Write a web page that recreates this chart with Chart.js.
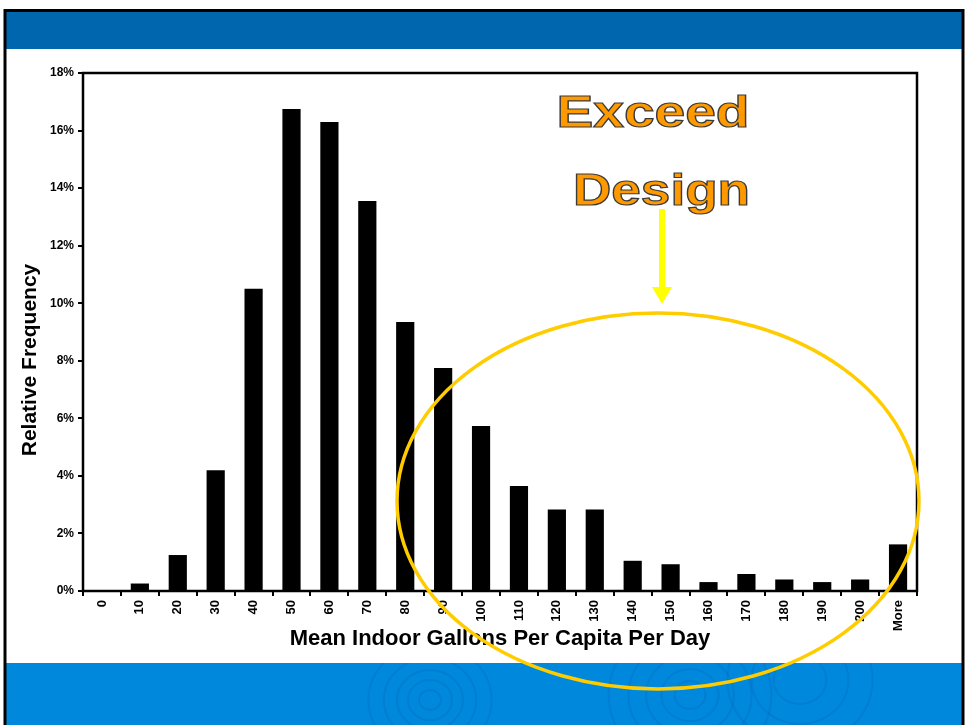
<!DOCTYPE html>
<html>
<head>
<meta charset="utf-8">
<script src="https://cdn.jsdelivr.net/npm/chart.js@4/dist/chart.umd.min.js"></script>
<style>
  html, body { margin: 0; padding: 0; background: #fff; }
  #wrap { width: 968px; height: 725px; position: relative; }
</style>
</head>
<body>
<div id="wrap"><canvas id="myChart"></canvas></div>
<script>
    // bins (gallons per capita per day) and relative frequency in %
    const bins = ["0", "10", "20", "30", "40", "50", "60", "70", "80", "90", "100",
      "110", "120", "130", "140", "150", "160", "170", "180", "190", "200", "More"];
    const freq = [0, 0.26, 1.25, 4.2, 10.5, 16.75, 16.3, 13.55, 9.35, 7.75, 5.73,
      3.65, 2.83, 2.83, 1.05, 0.93, 0.31, 0.59, 0.4, 0.31, 0.4, 1.62];
    const yTicks = [0, 2, 4, 6, 8, 10, 12, 14, 16, 18];

    const yTitle = "Relative Frequency";
    const calloutLines = ["Exceed", "Design"];

    const fontFam = '"Liberation Sans", Arial, Helvetica, sans-serif';

    // slide background: blue bands + black frame
    const slideBg = {
      id: 'slideBg',
      beforeDraw(chart) {
        const ctx = chart.ctx;
        ctx.save();
        ctx.fillStyle = '#fff';
        ctx.fillRect(0, 0, 968, 725);
        ctx.fillStyle = '#0066ae';
        ctx.fillRect(5, 11, 958, 38);
        ctx.fillStyle = '#0088dd';
        ctx.fillRect(5, 663, 958, 62);
        // faint ripples in the bottom band
        ctx.beginPath();
        ctx.rect(5, 663, 958, 62);
        ctx.clip();
        ctx.strokeStyle = 'rgba(0, 70, 150, 0.14)';
        ctx.lineWidth = 2;
        [[430, 700, [10, 20, 30, 42, 56]], [690, 695, [14, 26, 40, 56, 74]], [800, 680, [24, 44, 66]]].forEach(r => {
          r[2].forEach(rad => {
            ctx.beginPath();
            ctx.ellipse(r[0], r[1], rad * 1.1, rad, 0, 0, Math.PI * 2);
            ctx.stroke();
          });
        });
        ctx.restore();
        ctx.save();
        ctx.strokeStyle = '#000';
        ctx.lineWidth = 3;
        ctx.strokeRect(5, 10.5, 958, 740);
        ctx.restore();
      }
    };

    // plot frame around the chart area + y axis title
    const plotFrame = {
      id: 'plotFrame',
      afterDatasetsDraw(chart) {
        const a = chart.chartArea, ctx = chart.ctx;
        ctx.save();
        ctx.strokeStyle = '#000';
        ctx.lineWidth = 2.5;
        ctx.strokeRect(a.left, a.top, a.right - a.left, a.bottom - a.top);
        ctx.translate(30, 360);
        ctx.rotate(-Math.PI / 2);
        ctx.fillStyle = '#000';
        ctx.font = 'bold 21px ' + fontFam;
        ctx.textAlign = 'center';
        ctx.textBaseline = 'middle';
        ctx.fillText(yTitle, 0, 0);
        ctx.restore();
      }
    };

    // "Exceed Design" callout, arrow and ellipse
    const callout = {
      id: 'callout',
      afterDraw(chart) {
        const ctx = chart.ctx;
        ctx.save();
        ctx.strokeStyle = '#ffcc00';
        ctx.lineWidth = 3.5;
        ctx.beginPath();
        ctx.ellipse(658, 501, 261, 188, 0, 0, Math.PI * 2);
        ctx.stroke();

        ctx.fillStyle = '#ffff00';
        ctx.fillRect(659, 209, 6, 79);
        ctx.beginPath();
        ctx.moveTo(652, 287);
        ctx.lineTo(672, 287);
        ctx.lineTo(662, 304);
        ctx.closePath();
        ctx.fill();

        const spots = [[653, 127, 193], [661.5, 205, 177]];
        ctx.font = 'bold 45px ' + fontFam;
        ctx.textAlign = 'center';
        ctx.textBaseline = 'alphabetic';
        calloutLines.forEach((t, i) => {
          const s = spots[i];
          const w = ctx.measureText(t).width;
          ctx.save();
          ctx.translate(s[0], s[1]);
          ctx.scale(s[2] / w, 1);
          ctx.fillStyle = '#ff9900';
          ctx.fillText(t, 0, 0);
          ctx.strokeStyle = '#3a3a3a';
          ctx.lineWidth = 1.2;
          ctx.strokeText(t, 0, 0);
          ctx.restore();
        });
        ctx.restore();
      }
    };

    new Chart("myChart", {
      type: "bar",
      data: {
        labels: bins,
        datasets: [{
          data: freq,
          backgroundColor: "#000",
          borderWidth: 0,
          categoryPercentage: 1,
          barPercentage: 0.48
        }]
      },
      options: {
        responsive: true,
        maintainAspectRatio: false,
        animation: false,
        devicePixelRatio: 1,
        layout: { padding: { left: 0, top: 73, right: 51, bottom: 69 } },
        plugins: {
          legend: { display: false },
          tooltip: { enabled: false }
        },
        scales: {
          x: {
            grid: { drawOnChartArea: false, tickLength: 5, color: "#000", lineWidth: 2, offset: true },
            border: { display: false },
            ticks: {
              autoSkip: false, minRotation: 90, maxRotation: 90, padding: 4, color: "#000",
              font: { family: fontFam, size: 13, weight: "bold" }
            },
            title: {
              display: true, text: "Mean Indoor Gallons Per Capita Per Day", color: "#000",
              font: { family: fontFam, size: 22, weight: "bold" },
              padding: { top: 0, bottom: 4 }
            },
            afterFit(scale) { scale.height = 65; }
          },
          y: {
            min: 0,
            max: 18,
            afterBuildTicks(scale) { scale.ticks = yTicks.map(v => ({ value: v })); },
            grid: { drawOnChartArea: false, tickLength: 5, color: "#000", lineWidth: 2 },
            border: { display: false },
            ticks: {
              padding: 4, color: "#000",
              font: { family: fontFam, size: 12, weight: "bold" },
              callback: v => v + "%"
            },
            title: { display: false },
            afterFit(scale) { scale.width = 83; }
          }
        }
      },
      plugins: [slideBg, plotFrame, callout]
    });
</script>
</body>
</html>
